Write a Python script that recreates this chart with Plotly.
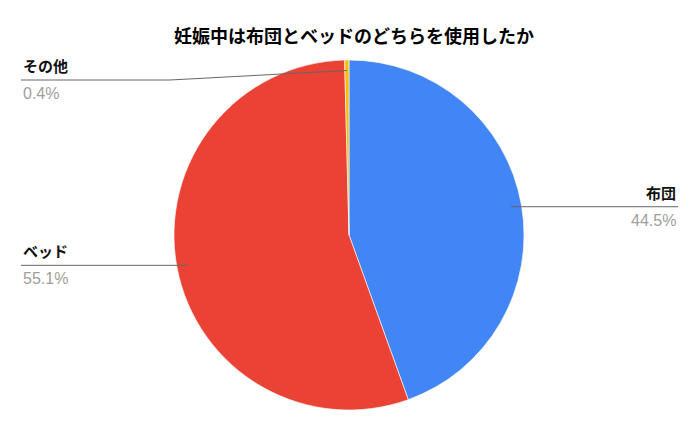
import math
import plotly.graph_objects as go

### data ###
labels = ["布団", "ベッド", "その他"]
values = [44.5, 55.1, 0.4]
pct_text = ["44.5%", "55.1%", "0.4%"]
colors = ["#4285F4", "#EA4335", "#FBBC04"]
title = "妊娠中は布団とベッドのどちらを使用したか"

### layout numbers (pixels) ###
W, H = 699, 432
cx, cy, r = 349, 235, 175
dot_r = 0.94 * r
left_x, right_x = 21, 678
top_label_y = 80

fig = go.Figure()

fig.add_trace(go.Pie(
    labels=labels, values=values, sort=False, direction="clockwise", rotation=0,
    marker=dict(colors=colors, line=dict(color="white", width=0.6)),
    textinfo="none", hoverinfo="label+percent", showlegend=False,
    domain=dict(x=[(cx - r) / W, (cx + r) / W], y=[(H - cy - r) / H, (H - cy + r) / H]),
))

# leader lines, dots and labels, placed from slice mid angles
total = sum(values)
acc = 0
dots_x, dots_y = [], []
shapes, annots = [], []
for lab, v, pt in zip(labels, values, pct_text):
    mid = (acc + v / 2) / total * 2 * math.pi
    acc += v
    dx = cx + dot_r * math.sin(mid)
    dy = cy - dot_r * math.cos(mid)
    dots_x.append(dx)
    dots_y.append(dy)
    right_side = math.sin(mid) > 0.05
    ly = max(dy, top_label_y)
    if right_side:
        path = f"M {dx},{dy} L {right_x},{ly}"
        ax, anchor = right_x, "right"
    else:
        if abs(ly - dy) > 1:
            path = f"M {dx},{dy} L 170,{ly} L {left_x},{ly}"
        else:
            path = f"M {dx},{dy} L {left_x},{ly}"
        ax, anchor = left_x, "left"
    shapes.append(dict(type="path", path=path, xref="x", yref="y",
                       line=dict(color="#666666", width=1)))
    annots.append(dict(x=ax, y=ly - 2, xref="x", yref="y", text="<b>" + lab + "</b>",
                       showarrow=False, xanchor=anchor, yanchor="bottom",
                       font=dict(size=15, color="#111111",
                                 family="Noto Sans CJK JP, sans-serif")))
    annots.append(dict(x=ax, y=ly + 3, xref="x", yref="y", text=pt,
                       showarrow=False, xanchor=anchor, yanchor="top",
                       font=dict(size=16, color="#9E9E9E",
                                 family="Arial, Liberation Sans, sans-serif")))

fig.add_trace(go.Scatter(x=dots_x, y=dots_y, mode="markers",
                         marker=dict(size=4, color="#9E9E9E"),
                         hoverinfo="skip", showlegend=False))

annots.append(dict(x=354, y=35, xref="x", yref="y", text="<b>" + title + "</b>",
                   showarrow=False, xanchor="center", yanchor="middle",
                   font=dict(size=18, color="#000000",
                             family="Noto Sans CJK JP, sans-serif")))

fig.update_layout(
    width=W, height=H,
    margin=dict(l=0, r=0, t=0, b=0),
    paper_bgcolor="white", plot_bgcolor="rgba(0,0,0,0)",
    xaxis=dict(range=[0, W], visible=False, fixedrange=True),
    yaxis=dict(range=[H, 0], visible=False, fixedrange=True),
    shapes=shapes, annotations=annots,
)

# drop the browser's default 8px body margin so the chart sits at the page corner
fig.write_html("out.html", config={"displayModeBar": False},
               post_script="document.body.style.margin='0';")
